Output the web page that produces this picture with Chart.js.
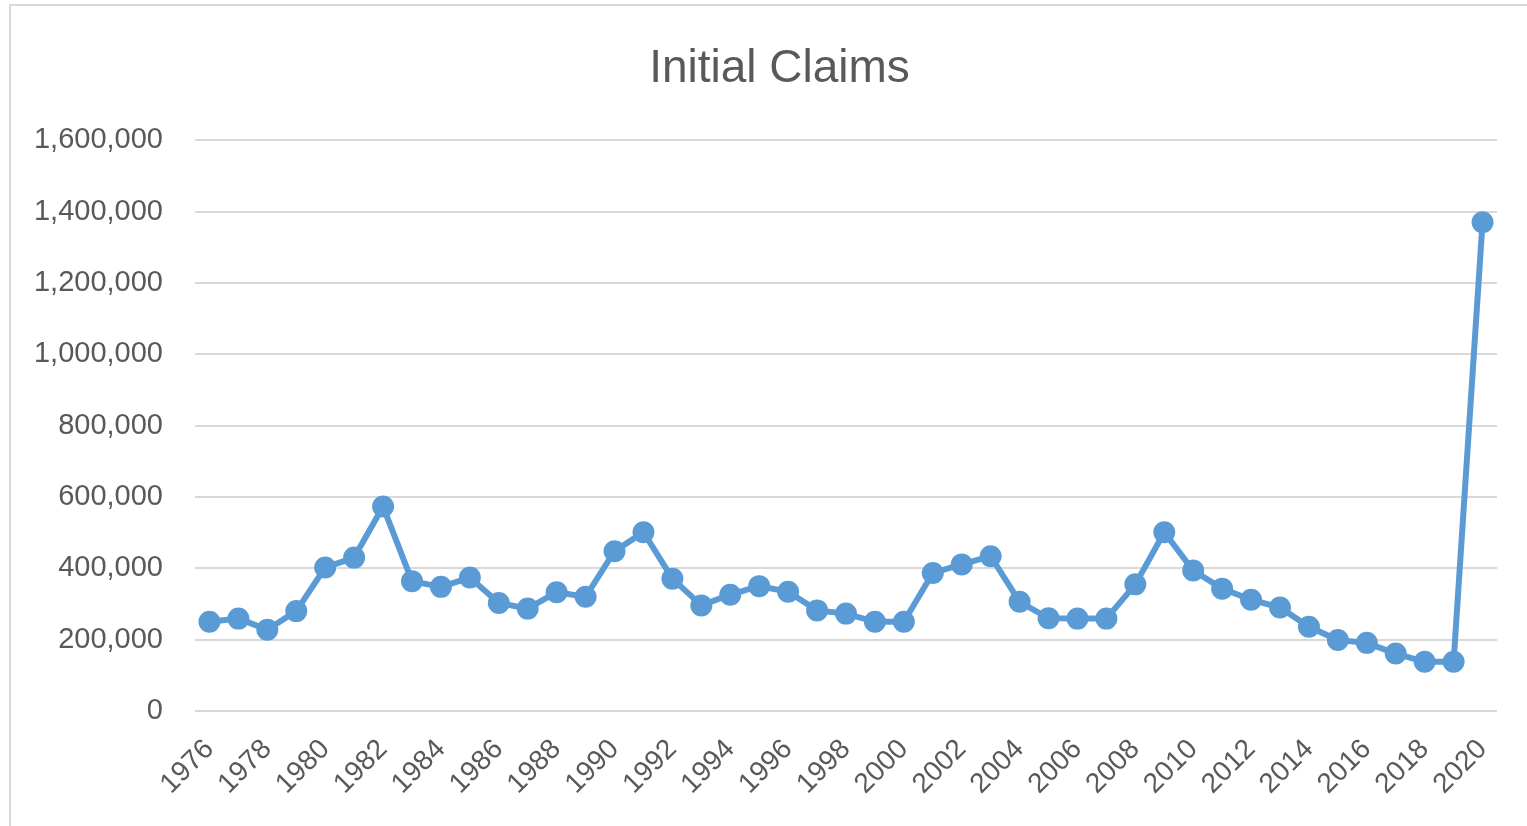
<!DOCTYPE html>
<html>
<head>
<meta charset="utf-8">
<script src="https://cdn.jsdelivr.net/npm/chart.js@4/dist/chart.umd.min.js"></script>
<style>
  html, body { margin: 0; padding: 0; background: #fff; overflow: hidden; }
  #frame { position: absolute; left: 9px; top: 4px; width: 1560px; height: 900px; border: 2px solid #d9d9d9; }
  #wrap { position: absolute; left: 0; top: 0; width: 1527px; height: 826px; }
</style>
</head>
<body>
<div id="frame"></div>
<div id="wrap"><canvas id="chartContainer"></canvas></div>
<script>
// years on the category axis
var years = [1976, 1977, 1978, 1979, 1980, 1981, 1982, 1983, 1984, 1985,
             1986, 1987, 1988, 1989, 1990, 1991, 1992, 1993, 1994, 1995,
             1996, 1997, 1998, 1999, 2000, 2001, 2002, 2003, 2004, 2005,
             2006, 2007, 2008, 2009, 2010, 2011, 2012, 2013, 2014, 2015,
             2016, 2017, 2018, 2019, 2020];

// initial claims
var claims = [250000, 259000, 228000, 280000, 402000, 430000, 573000, 364000, 348000, 374000,
              303000, 287000, 333000, 320000, 448000, 501000, 371000, 296000, 326000, 350000,
              334000, 282000, 273000, 250000, 250000, 387000, 411000, 434000, 306000, 260000,
              259000, 259000, 355000, 501000, 394000, 343000, 312000, 290000, 236000, 199000,
              191000, 161000, 138000, 138000, 1370000];

// labels printed under the x axis (every other year)
var xTickLabels = ["1976", "1978", "1980", "1982", "1984", "1986", "1988", "1990",
                   "1992", "1994", "1996", "1998", "2000", "2002", "2004", "2006",
                   "2008", "2010", "2012", "2014", "2016", "2018", "2020"];

var yMax = 1600000;
var yStep = 200000;

var grey = '#595959';
var blue = '#5b9bd5';

// the title sits a bit right of the canvas centre, as in the original
var shiftTitle = {
  id: 'shiftTitle',
  afterLayout: function (chart) {
    if (chart.titleBlock) chart.titleBlock.left += 62;
  }
};

window.onload = function () {
  var canvas = document.getElementById('chartContainer');
  var ctx = canvas.getContext('2d');

  new Chart(ctx, {
    type: 'line',
    data: {
      labels: years.map(String),
      datasets: [{
        label: 'Initial Claims',
        data: claims,
        borderColor: blue,
        backgroundColor: blue,
        borderWidth: 6,
        pointRadius: 8,
        pointBackgroundColor: blue,
        pointBorderColor: blue,
        tension: 0
      }]
    },
    plugins: [shiftTitle],
    options: {
      responsive: true,
      maintainAspectRatio: false,
      animation: false,
      layout: { padding: { left: 0, right: 30, top: 0, bottom: 0 } },
      plugins: {
        legend: { display: false },
        tooltip: { enabled: false },
        title: {
          display: true,
          text: 'Initial Claims',
          color: grey,
          font: { family: 'Liberation Sans', size: 46, weight: 'normal' },
          padding: { top: 42, bottom: 43 }
        }
      },
      scales: {
        x: {
          offset: true,
          grid: { display: false },
          border: { display: false },
          ticks: {
            autoSkip: false,
            maxRotation: 45,
            minRotation: 45,
            padding: 14,
            color: grey,
            font: { family: 'Liberation Sans', size: 28 },
            callback: function (v, i) {
              var lab = this.getLabelForValue(v);
              return xTickLabels.indexOf(lab) >= 0 ? lab : '';
            }
          },
          afterFit: function (scale) { scale.height = 115; }
        },
        y: {
          min: 0,
          max: yMax,
          border: { display: false },
          grid: { color: '#d9d9d9', lineWidth: 2, drawTicks: false },
          ticks: {
            stepSize: yStep,
            padding: 32,
            color: grey,
            font: { family: 'Liberation Sans', size: 29 },
            callback: function (v) { return v.toLocaleString('en-US'); }
          },
          afterFit: function (scale) { scale.width = 195; }
        }
      }
    }
  });
};
</script>
</body>
</html>
